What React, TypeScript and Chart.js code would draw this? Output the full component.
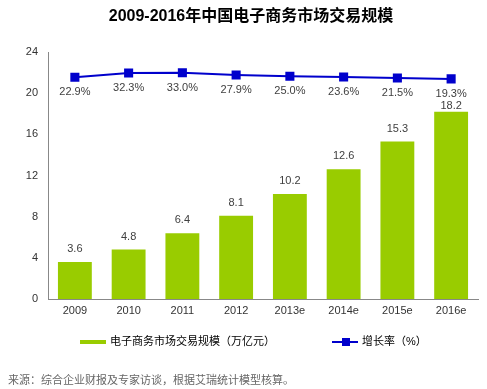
import React, { useEffect, useRef } from "react";
import { Chart, registerables } from "chart.js";

Chart.register(...registerables);

const categories = ["2009", "2010", "2011", "2012", "2013e", "2014e", "2015e", "2016e"];
const marketSize = [3.6, 4.8, 6.4, 8.1, 10.2, 12.6, 15.3, 18.2];
const growthRate = [22.9, 32.3, 33.0, 27.9, 25.0, 23.6, 21.5, 19.3];
const yTicks = [0, 4, 8, 12, 16, 20, 24];

const titleText = "2009-2016年中国电子商务市场交易规模";
const barLegend = "电子商务市场交易规模（万亿元）";
const lineLegend = "增长率（%）";
const sourceText = "来源：综合企业财报及专家访谈，根据艾瑞统计模型核算。";

const GREEN = "#99CC00";
const BLUE = "#0000CC";
const FONT = "'Liberation Sans', 'Noto Sans CJK SC', sans-serif";

const overlayPlugin = {
  id: "overlay",
  afterDatasetsDraw(chart: any) {
    const ctx = chart.ctx;
    ctx.save();
    ctx.fillStyle = "#404040";
    ctx.font = `11px ${FONT}`;
    ctx.textAlign = "center";
    ctx.textBaseline = "middle";
    const pts = chart.getDatasetMeta(1).data;
    const growthY: number[] = [];
    pts.forEach((pt: any, i: number) => {
      const y = pt.y + 15;
      growthY.push(y);
      ctx.fillText(growthRate[i].toFixed(1) + "%", pt.x, y);
    });
    chart.getDatasetMeta(0).data.forEach((bar: any, i: number) => {
      const y = Math.max(bar.y - 13, growthY[i] + 12);
      ctx.fillText(marketSize[i].toFixed(1), bar.x, y);
    });
    ctx.restore();
  },
  afterDraw(chart: any) {
    const ctx = chart.ctx;
    ctx.save();
    ctx.fillStyle = "#000";
    ctx.font = `bold 16px ${FONT}`;
    ctx.textAlign = "center";
    ctx.textBaseline = "middle";
    ctx.fillText(titleText, 251, 17);
    ctx.fillStyle = GREEN;
    ctx.fillRect(80, 340, 26, 4);
    ctx.fillStyle = "#000";
    ctx.font = `11px ${FONT}`;
    ctx.textAlign = "left";
    ctx.fillText(barLegend, 110, 342);
    ctx.strokeStyle = BLUE;
    ctx.lineWidth = 2;
    ctx.beginPath();
    ctx.moveTo(332, 342);
    ctx.lineTo(358, 342);
    ctx.stroke();
    ctx.fillStyle = BLUE;
    ctx.fillRect(342, 338, 8, 8);
    ctx.fillStyle = "#000";
    ctx.fillText(lineLegend, 362, 342);
    ctx.fillStyle = "#666";
    ctx.fillText(sourceText, 8, 381);
    ctx.restore();
  },
};

export default function App() {
  const ref = useRef<HTMLCanvasElement>(null);
  useEffect(() => {
    if (!ref.current) return;
    const chart = new Chart(ref.current, {
      type: "bar",
      data: {
        labels: categories,
        datasets: [
          {
            type: "bar",
            label: barLegend,
            data: marketSize,
            backgroundColor: GREEN,
            categoryPercentage: 1,
            barPercentage: 0.63,
            yAxisID: "y",
            order: 2,
          },
          {
            type: "line",
            label: lineLegend,
            data: growthRate,
            borderColor: BLUE,
            backgroundColor: BLUE,
            borderWidth: 2,
            pointStyle: "rect",
            pointRadius: 5,
            pointBackgroundColor: BLUE,
            pointBorderColor: BLUE,
            yAxisID: "y2",
            order: 1,
          } as any,
        ],
      },
      options: {
        responsive: false,
        animation: false,
        layout: { padding: { top: 52, right: 9, bottom: 70, left: 0 } },
        plugins: {
          legend: { display: false },
          title: { display: false },
          tooltip: { enabled: false },
        },
        scales: {
          x: {
            grid: { display: false, drawTicks: false },
            border: { color: "#888", width: 1 },
            ticks: { color: "#333", font: { size: 11, family: FONT }, padding: 5 },
            afterFit: (axis: any) => {
              axis.height = 20;
            },
          },
          y: {
            min: 0,
            max: 24,
            afterBuildTicks: (axis: any) => {
              axis.ticks = yTicks.map((v) => ({ value: v }));
            },
            grid: { display: false, drawTicks: false },
            border: { color: "#888", width: 1 },
            ticks: { color: "#333", font: { size: 11, family: FONT }, padding: 10 },
            afterFit: (axis: any) => {
              axis.width = 48;
            },
          },
          y2: {
            display: false,
            min: -469,
            max: 79,
          },
        },
      } as any,
      plugins: [overlayPlugin],
    });
    return () => chart.destroy();
  }, []);
  return (
    <div style={{ position: "fixed", left: 0, top: 0, width: 487, height: 389, background: "#fff" }}>
      <canvas ref={ref} width={487} height={389} style={{ display: "block" }} />
    </div>
  );
}
